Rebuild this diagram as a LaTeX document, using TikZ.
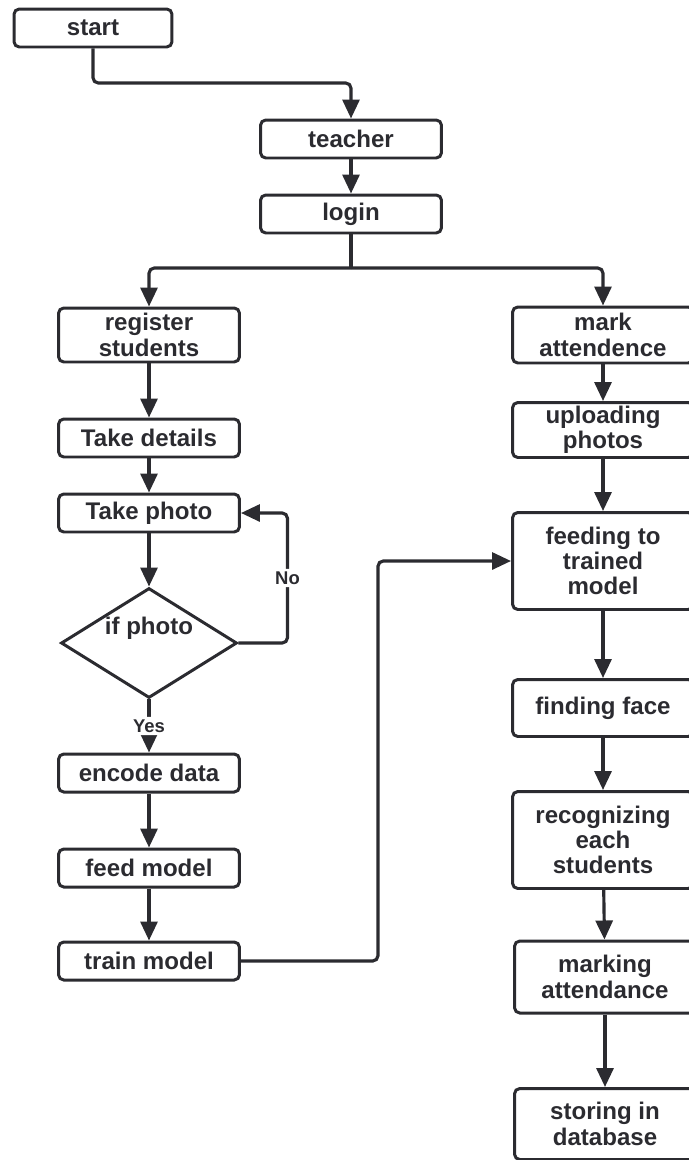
\documentclass[tikz,border=0pt]{standalone}
\usepackage{fontspec}
\setmainfont{Liberation Sans}
\usetikzlibrary{arrows.meta,shapes.geometric}
\definecolor{ink}{HTML}{2B2B30}

\begin{document}
\begin{tikzpicture}[x=0.02cm,y=-0.02cm,>={Triangle[length=0.38cm,width=0.34cm]},
        txt/.style={text=ink,font=\fontsize{13.7}{14.4}\selectfont\bfseries,align=center},
        box/.style={txt,draw=ink,line width=1.7pt,rounded corners=3pt,minimum width=3.62cm,minimum height=0.76cm,inner sep=0pt},
        dia/.style={draw=ink,line width=1.7pt,diamond,minimum width=3.52cm,minimum height=2.2cm,inner sep=0pt},
        ln/.style={draw=ink,line width=1.8pt,rounded corners=3pt},
        arr/.style={ln,->},
        lbl/.style={fill=white,text=ink,inner sep=1.5pt,font=\fontsize{10.5}{12}\selectfont\bfseries}]
        \useasboundingbox (0,0) rectangle (689,1160);
        % top
        \node[box,minimum width=3.16cm] (start) at (93,28) {start};
        \node[box] (teach) at (351,139) {teacher};
        \node[box] (login) at (351,214) {login};
        % left column
        \node[box,minimum height=1.08cm] (reg) at (149,335) {register\\students};
        \node[box] (det) at (149,438) {Take details};
        \node[box] (photo) at (149,513) {Take photo};
        \node[dia] (ifp) at (149,643) {};
        \node[txt] (ifptxt) at (149,628) {if photo};
        \node[box] (enc) at (149,773) {encode data};
        \node[box] (feed) at (149,868) {feed model};
        \node[box] (train) at (149,961) {train model};
        % right column
        \node[box,minimum height=1.12cm] (mark) at (603,335) {mark\\attendence};
        \node[box,minimum height=1.1cm] (upl) at (603,430) {uploading\\photos};
        \node[box,minimum height=1.94cm] (feedm) at (603,561) {feeding to\\trained\\model};
        \node[box,minimum height=1.14cm] (face) at (603,708) {finding face};
        \node[box,minimum height=1.94cm] (recog) at (603,840) {recognizing\\each\\students};
        \node[box,minimum height=1.44cm] (markd) at (605,977) {marking\\attendance};
        \node[box,minimum height=1.42cm] (store) at (605,1124) {storing in\\database};
        % connectors
        \coordinate (j1) at (93,83);
        \coordinate (j2) at (351,268);
        \draw[arr] (start) -- (j1) -| (teach);
        \draw[arr] (teach) -- (login);
        \draw[ln] (login) -- (j2);
        \draw[arr] (j2) -| (reg);
        \draw[arr] (j2) -| (mark);
        \draw[arr] (reg) -- (det);
        \draw[arr] (det) -- (photo);
        \draw[arr] (photo) -- (ifp);
        \draw[arr] (ifp.east) -- ++(49,0) |- node[lbl,pos=0.25]{No} (photo.east);
        \draw[arr] (ifp) -- node[lbl]{Yes} (enc);
        \draw[arr] (enc) -- (feed);
        \draw[arr] (feed) -- (train);
        \draw[arr] (train.east) -- ++(137,0) |- (feedm);
        \draw[arr] (mark) -- (upl);
        \draw[arr] (upl) -- (feedm);
        \draw[arr] (feedm) -- (face);
        \draw[arr] (face) -- (recog);
        \draw[arr] (recog) -- (markd);
        \draw[arr] (markd) -- (store);
    \end{tikzpicture}
\end{document}
